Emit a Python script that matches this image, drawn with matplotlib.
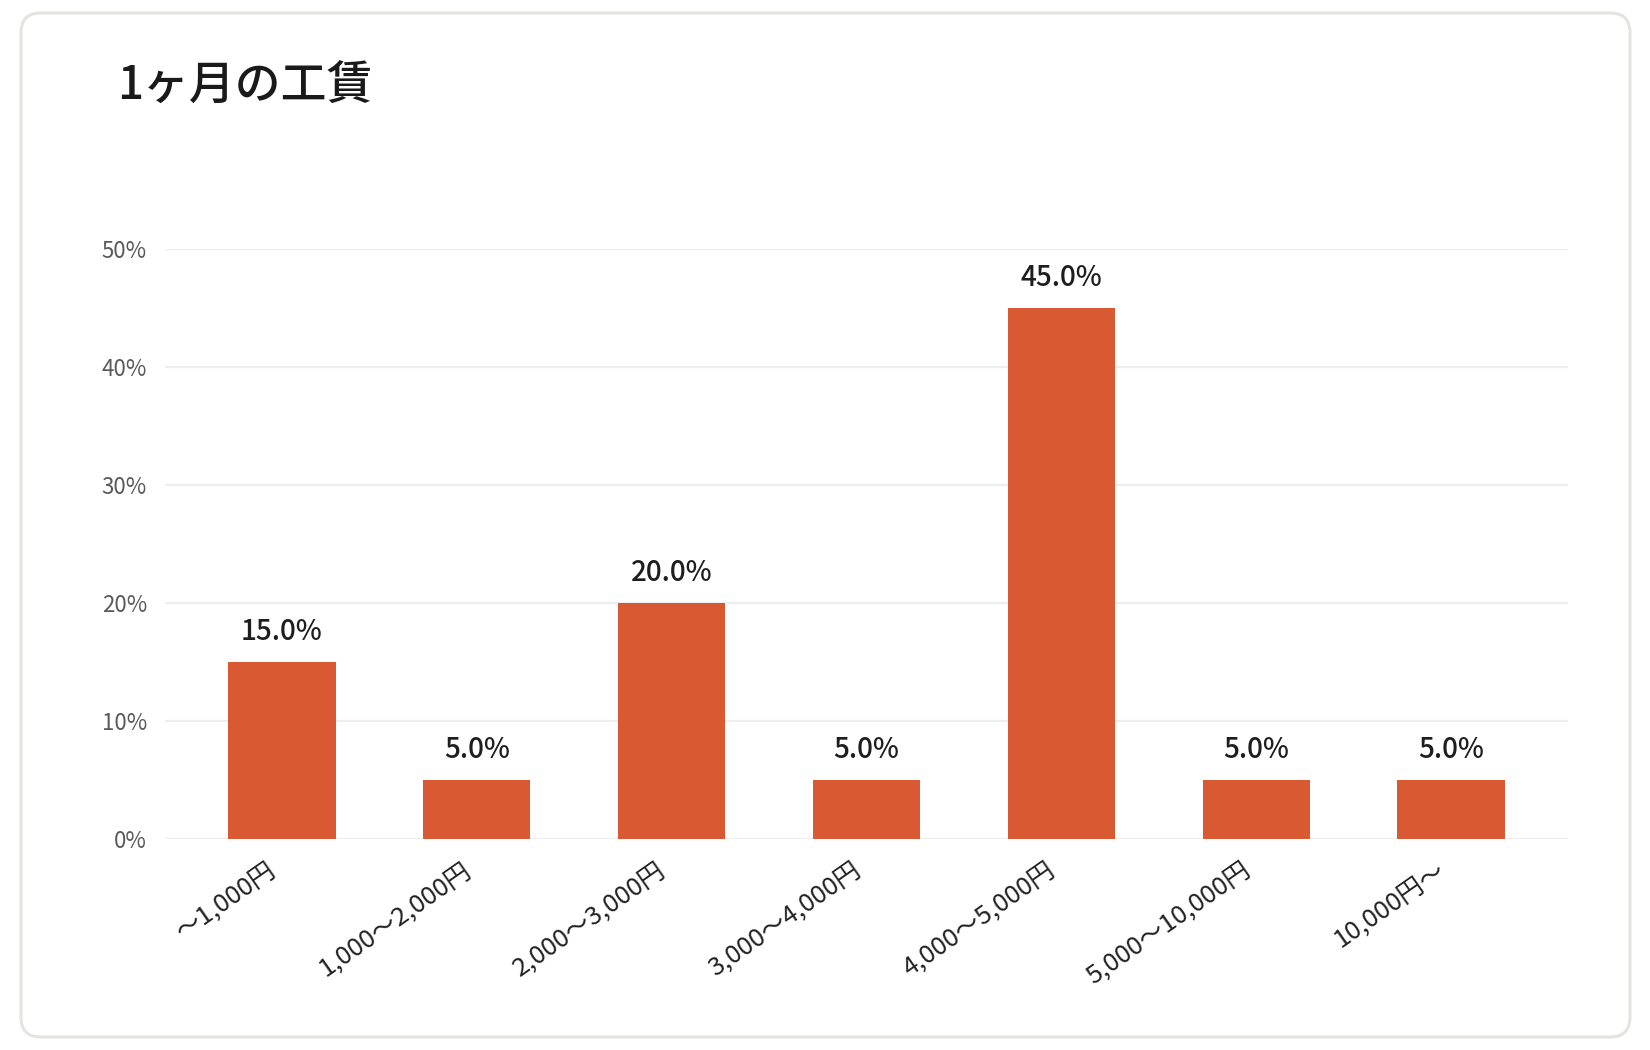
import matplotlib
matplotlib.use("Agg")
import matplotlib.pyplot as plt
from matplotlib.patches import FancyBboxPatch
from matplotlib.transforms import ScaledTranslation

plt.rcParams['font.family'] = ['Noto Sans CJK JP', 'DejaVu Sans']

title = "1ヶ月の工賃"
categories = ["〜1,000円", "1,000〜2,000円", "2,000〜3,000円", "3,000〜4,000円",
              "4,000〜5,000円", "5,000〜10,000円", "10,000円〜"]
values = [15.0, 5.0, 20.0, 5.0, 45.0, 5.0, 5.0]
yticks = [0, 10, 20, 30, 40, 50]

bar_color = "#D95A32"

fig = plt.figure(figsize=(16.5, 10.5), dpi=100)
fig.patch.set_facecolor("white")

# card background with rounded border
W, H = 1650.0, 1050.0
card = FancyBboxPatch((21 / W, 13 / H), (1630 - 21) / W, (1037 - 13) / H,
                      boxstyle="round,pad=0,rounding_size=0.012",
                      transform=fig.transFigure, facecolor="white",
                      edgecolor="#E4E4E1", linewidth=2.2, zorder=-10,
                      mutation_aspect=W / H)
fig.patches.append(card)

fig.text(117 / W, 1 - 86 / H, title, fontsize=33, fontweight="medium",
         color="#1a1a1a", ha="left", va="center")

ax = fig.add_axes([165 / W, 1 - 839 / H, (1568 - 165) / W, (839 - 249) / H])
ax.set_facecolor("none")
ax.set_zorder(1)

x = range(len(categories))
bars = ax.bar(x, values, width=0.55, color=bar_color, zorder=2)

for i, v in enumerate(values):
    ax.annotate(f"{v:.1f}%", (i, v), xytext=(0, 16), textcoords="offset points",
                ha="center", va="baseline", fontsize=20, fontweight="medium",
                color="#1e1e1e")

ax.set_xlim(-0.6, len(categories) - 0.4)
ax.set_ylim(0, 50)
ax.set_yticks(yticks)
ax.set_yticklabels([f"{t}%" for t in yticks])
ax.yaxis.grid(True, color="#EEEEEE", linewidth=1.6, zorder=0)
ax.set_axisbelow(True)

ax.set_xticks(list(x))
ax.set_xticklabels(categories, rotation=35, ha="right", va="center",
                   rotation_mode="anchor", fontsize=18.5, color="#222222")
ax.tick_params(axis="x", length=0, pad=21)
ax.tick_params(axis="y", length=0, pad=13, labelsize=16, labelcolor="#5a5a5a")
shift = ScaledTranslation(-8 / 100, 0, fig.dpi_scale_trans)
for lbl in ax.get_xticklabels():
    lbl.set_transform(lbl.get_transform() + shift)

for s in ax.spines.values():
    s.set_visible(False)

fig.savefig("out.png", dpi=100, facecolor="white")
